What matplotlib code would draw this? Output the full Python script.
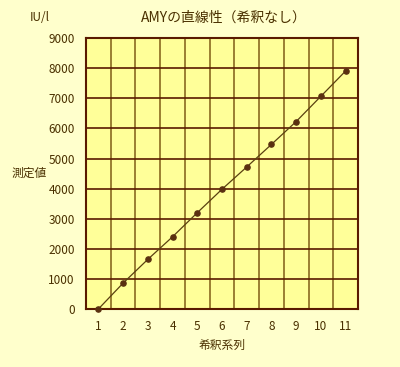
import numpy as np
import matplotlib.pyplot as plt

plt.rcParams['font.family'] = ['Noto Sans CJK JP', 'DejaVu Sans']

# 希釈系列と測定値
series = [1, 2, 3, 4, 5, 6, 7, 8, 9, 10, 11]
values = [0, 860, 1650, 2400, 3200, 3980, 4720, 5470, 6230, 7070, 7910]
yticks = [0, 1000, 2000, 3000, 4000, 5000, 6000, 7000, 8000, 9000]

txt = '#4a3000'
fig = plt.figure(figsize=(4.0, 3.67), dpi=100, facecolor='#ffffcc')
ax = fig.add_axes([0.215, 0.158, 0.68, 0.738])
ax.set_facecolor('#ffff99')

n = len(series)
ax.set_xlim(0, n)
ax.set_ylim(0, 9000)

# 縦線は区切り、横線は目盛
for i in range(1, n):
    ax.axvline(i, color='#8a6a20', lw=1.2, zorder=1)
for v in yticks[1:-1]:
    ax.axhline(v, color='#5a1a00', lw=1.2, zorder=1)

xs = np.arange(n) + 0.5
ax.plot(xs, values, color='#5a4010', lw=0.9, zorder=2, clip_on=False)
ax.scatter(xs, values, s=14, color='#5a3010', zorder=3, clip_on=False)

ax.set_xticks(xs)
ax.set_xticklabels([str(s) for s in series])
ax.set_yticks(yticks)
ax.tick_params(length=0, labelsize=8.5, labelcolor=txt, pad=8)
for sp in ax.spines.values():
    sp.set_color('#5a1a00')
    sp.set_linewidth(1.5)

fig.text(0.56, 0.952, 'AMYの直線性（希釈なし）', ha='center', va='center',
         fontsize=10, color=txt)
fig.text(0.075, 0.952, 'IU/l', ha='left', va='center', fontsize=8.5, color=txt)
fig.text(0.03, 0.528, '測定値', ha='left', va='center', fontsize=8.5, color=txt)
ax.set_xlabel('希釈系列', fontsize=8.5, color=txt, labelpad=4)

fig.savefig('out.png', dpi=100, facecolor=fig.get_facecolor())
